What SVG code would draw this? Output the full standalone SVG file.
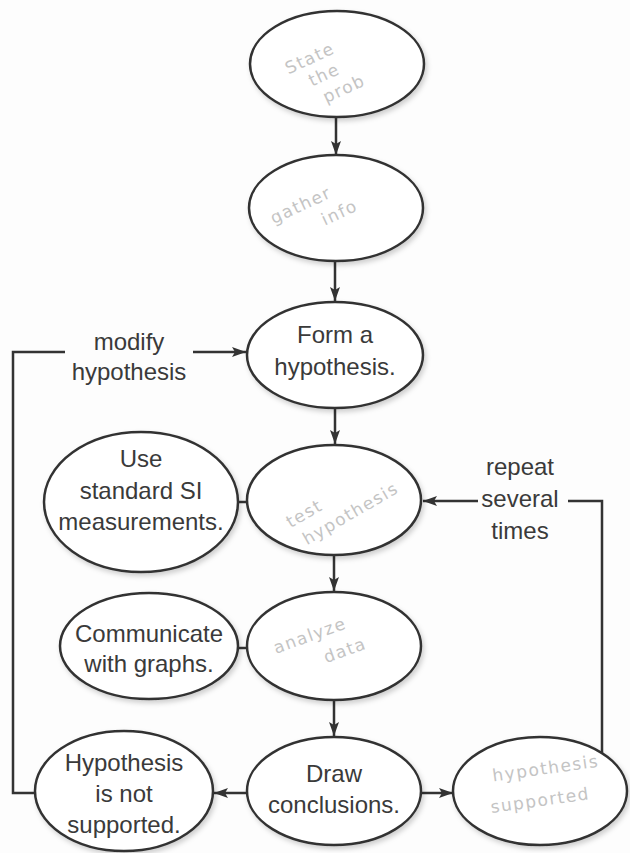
<svg xmlns="http://www.w3.org/2000/svg" width="630" height="853" viewBox="0 0 630 853">
  <defs>
    <marker id="ah" markerWidth="14" markerHeight="10" refX="14" refY="5" orient="auto" markerUnits="userSpaceOnUse">
      <path d="M0,0 L14,5 L0,10 L3,5 z" fill="#333"/>
    </marker>
    <filter id="sh" x="-10%" y="-10%" width="125%" height="130%">
      <feDropShadow dx="2" dy="3" stdDeviation="2.5" flood-color="#000" flood-opacity="0.18"/>
    </filter>
  </defs>
  <style>
    .node ellipse { fill: #fff; stroke: #333; stroke-width: 2.5; filter: url(#sh); }
    .t { font-family: "Liberation Sans", Arial, sans-serif; font-size: 24px; fill: #3a3a3a; text-anchor: middle; }
    .hw { font-family: "DejaVu Sans", sans-serif; font-size: 17px; fill: #c4c4c4; text-anchor: middle; letter-spacing: 1.5px; }
    .c { fill: none; stroke: #333; stroke-width: 2.5; }
  </style>
  <rect width="630" height="853" fill="#fdfdfd"/>

  <g id="connectors">
    <line class="c" x1="336" y1="117" x2="336" y2="155" marker-end="url(#ah)"/>
    <line class="c" x1="335" y1="262" x2="335" y2="301" marker-end="url(#ah)"/>
    <line class="c" x1="335" y1="408" x2="335" y2="444" marker-end="url(#ah)"/>
    <line class="c" x1="334" y1="555" x2="334" y2="591" marker-end="url(#ah)"/>
    <line class="c" x1="334" y1="700" x2="334" y2="736" marker-end="url(#ah)"/>
    <line class="c" x1="238" y1="502" x2="248" y2="502"/>
    <line class="c" x1="238" y1="648" x2="248" y2="648"/>
    <line class="c" x1="247" y1="793" x2="214" y2="793" marker-end="url(#ah)"/>
    <line class="c" x1="421" y1="793" x2="453" y2="793" marker-end="url(#ah)"/>
    <polyline class="c" points="65,352 13,352 13,793 36,793"/>
    <line class="c" x1="193" y1="352" x2="246" y2="352" marker-end="url(#ah)"/>
    <polyline class="c" points="602,753 602,501 568,501"/>
    <line class="c" x1="478" y1="501" x2="423" y2="501" marker-end="url(#ah)"/>
  </g>

  <g id="labels">
    <text class="t" x="129" y="350">modify</text>
    <text class="t" x="129" y="380">hypothesis</text>
    <text class="t" x="520" y="475">repeat</text>
    <text class="t" x="520" y="507">several</text>
    <text class="t" x="520" y="539">times</text>
  </g>

  <g id="state-problem" class="node">
    <ellipse cx="337" cy="64" rx="87" ry="53"/>
    <g transform="rotate(-25 322 70)">
      <text class="hw" x="316" y="60">State</text>
      <text class="hw" x="322" y="81">the</text>
      <text class="hw" x="334" y="102">prob</text>
    </g>
  </g>

  <g id="gather-info" class="node">
    <ellipse cx="336" cy="208" rx="87" ry="53"/>
    <g transform="rotate(-25 315 205)">
      <text class="hw" x="302" y="205">gather</text>
      <text class="hw" x="334" y="228">info</text>
    </g>
  </g>

  <g id="form-hypothesis" class="node">
    <ellipse cx="335" cy="355" rx="88" ry="53"/>
    <text class="t" x="335" y="343">Form a</text>
    <text class="t" x="335" y="375">hypothesis.</text>
  </g>

  <g id="test-hypothesis" class="node">
    <ellipse cx="334" cy="500" rx="87" ry="55"/>
    <g transform="rotate(-30 330 502)">
      <text class="hw" x="302" y="505">test</text>
      <text class="hw" x="342" y="528">hypothesis</text>
    </g>
  </g>

  <g id="analyze-data" class="node">
    <ellipse cx="334" cy="646" rx="87" ry="54"/>
    <g transform="rotate(-20 320 640)">
      <text class="hw" x="312" y="638">analyze</text>
      <text class="hw" x="340" y="664">data</text>
    </g>
  </g>

  <g id="draw-conclusions" class="node">
    <ellipse cx="334" cy="791" rx="87" ry="54"/>
    <text class="t" x="334" y="782">Draw</text>
    <text class="t" x="334" y="813">conclusions.</text>
  </g>

  <g id="si-measurements" class="node">
    <ellipse cx="141" cy="502" rx="97" ry="70"/>
    <text class="t" x="141" y="467">Use</text>
    <text class="t" x="141" y="499">standard SI</text>
    <text class="t" x="141" y="530">measurements.</text>
  </g>

  <g id="communicate-graphs" class="node">
    <ellipse cx="149" cy="646" rx="89" ry="53"/>
    <text class="t" x="149" y="642">Communicate</text>
    <text class="t" x="149" y="672">with graphs.</text>
  </g>

  <g id="not-supported" class="node">
    <ellipse cx="124" cy="791" rx="89" ry="60"/>
    <text class="t" x="124" y="771">Hypothesis</text>
    <text class="t" x="124" y="802">is not</text>
    <text class="t" x="124" y="833">supported.</text>
  </g>

  <g id="hypothesis-supported" class="node">
    <ellipse cx="540" cy="791" rx="87" ry="54"/>
    <g transform="rotate(-8 540 785)">
      <text class="hw" x="548" y="775">hypothesis</text>
      <text class="hw" x="538" y="806">supported</text>
    </g>
  </g>
</svg>
